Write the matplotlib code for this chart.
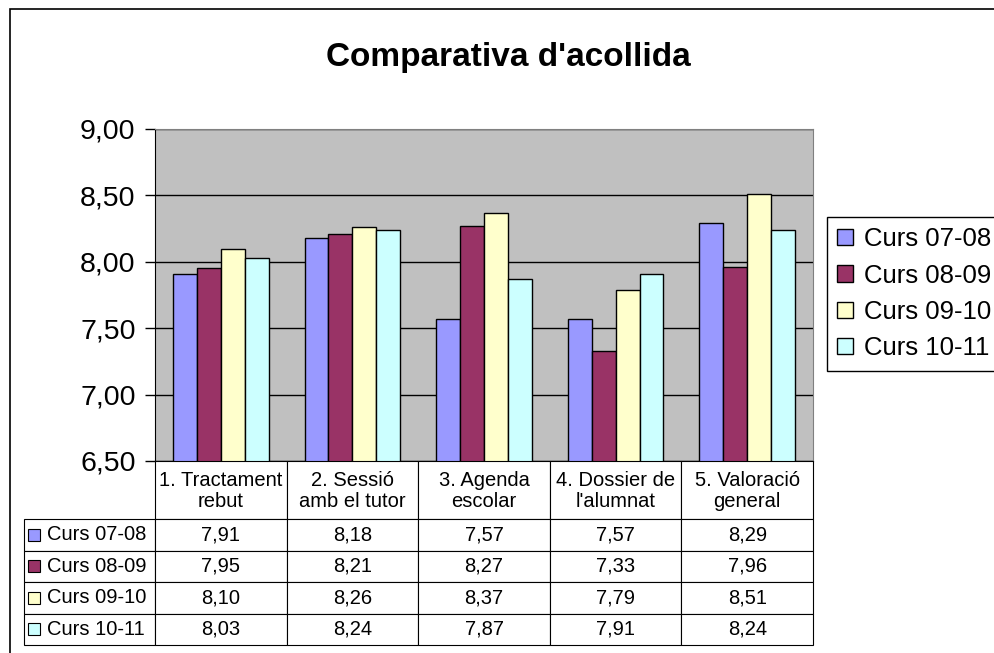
import matplotlib
matplotlib.use("Agg")
import matplotlib.pyplot as plt
from matplotlib.patches import Rectangle
from matplotlib.ticker import FuncFormatter
import numpy as np

plt.rcParams['font.family'] = ['Liberation Sans', 'DejaVu Sans']

# data
categories = ["1. Tractament\nrebut", "2. Sessió\namb el tutor", "3. Agenda\nescolar",
              "4. Dossier de\nl'alumnat", "5. Valoració\ngeneral"]
series_names = ["Curs 07-08", "Curs 08-09", "Curs 09-10", "Curs 10-11"]
curs_0708 = [7.91, 8.18, 7.57, 7.57, 8.29]
curs_0809 = [7.95, 8.21, 8.27, 7.33, 7.96]
curs_0910 = [8.10, 8.26, 8.37, 7.79, 8.51]
curs_1011 = [8.03, 8.24, 7.87, 7.91, 8.24]
series_values = [curs_0708, curs_0809, curs_0910, curs_1011]
colors = ['#9999FF', '#993366', '#FFFFCC', '#CCFFFF']


def fmt(v):
    return f"{v:.2f}".replace('.', ',')


W, H = 995, 653
fig = plt.figure(figsize=(W / 100, H / 100), dpi=100)

# outer chart border (cut by image edge on right/bottom)
fig.patches.append(Rectangle((10 / W, -0.1), 1.2, 1 - 9 / H + 0.1, transform=fig.transFigure,
                             fill=False, edgecolor='black', linewidth=1.2))

# plot area in pixels
px_l, px_r, px_t, px_b = 155, 813, 129, 461
aw, ah = px_r - px_l, px_b - px_t
ax = fig.add_axes([px_l / W, 1 - px_b / H, aw / W, ah / H])
ax.set_facecolor('#C0C0C0')


def ax_x(px):
    return (px - px_l) / aw


def ax_y(py):
    return (px_b - py) / ah


x = np.arange(len(categories))
bw = 1 / 5.5
for i, (name, vals) in enumerate(zip(series_names, series_values)):
    ax.bar(x + (i - 1.5) * bw, vals, width=bw, color=colors[i], edgecolor='black',
           linewidth=1, label=name, zorder=3)

ax.set_xlim(-0.5, len(categories) - 0.5)
ax.set_ylim(6.5, 9.0)
ax.set_yticks(np.arange(6.5, 9.01, 0.5))
ax.yaxis.set_major_formatter(FuncFormatter(lambda v, p: fmt(v)))
ax.tick_params(axis='y', direction='out', length=7, width=1, pad=7, labelsize=20.5)
ax.set_xticks([])
ax.grid(axis='y', color='black', linewidth=1, zorder=1)
for s in ['top', 'right']:
    ax.spines[s].set_color('#808080')
for s in ['left', 'bottom']:
    ax.spines[s].set_color('black')

# title
fig.text(508 / W, 1 - 66 / H, "Comparativa d'acollida", ha='center', va='baseline',
         fontsize=24, fontweight='bold')

# legend
leg = fig.legend(loc='upper left', bbox_to_anchor=(827 / W, 1 - 217 / H), borderaxespad=0,
                 fontsize=18.5, handlelength=0.6, handleheight=0.6, handletextpad=0.45,
                 labelspacing=0.48, borderpad=0.4, fancybox=False, framealpha=1)
leg.get_frame().set_edgecolor('black')
leg.get_frame().set_linewidth(1)

# data table below the plot, drawn in axes coordinates
tb_l, head_b, tb_b = 24, 519, 645
row_h = (tb_b - head_b) / len(series_names)
col_w = aw / len(categories)
tfs = 14.5


def cell(x0, y0, x1, y1):
    ax.add_patch(Rectangle((ax_x(x0), ax_y(y1)), ax_x(x1) - ax_x(x0), ax_y(y0) - ax_y(y1),
                           transform=ax.transAxes, facecolor='white', edgecolor='black',
                           linewidth=0.8, clip_on=False, zorder=4))


for j, cat in enumerate(categories):
    cx0 = px_l + j * col_w
    cell(cx0, px_b, cx0 + col_w, head_b)
    ax.text(ax_x(cx0 + col_w / 2), ax_y((px_b + head_b) / 2 + 1), cat, transform=ax.transAxes,
            ha='center', va='center', fontsize=tfs, linespacing=1.1, zorder=6)

for i, (name, vals) in enumerate(zip(series_names, series_values)):
    y0 = head_b + i * row_h
    y1 = y0 + row_h
    cy = (y0 + y1) / 2
    cell(tb_l, y0, px_l, y1)
    ax.add_patch(Rectangle((ax_x(28), ax_y(cy + 6)), 12 / aw, 12 / ah,
                           transform=ax.transAxes, facecolor=colors[i], edgecolor='black',
                           linewidth=0.8, clip_on=False, zorder=6))
    ax.text(ax_x(47), ax_y(cy), name, transform=ax.transAxes, ha='left', va='center',
            fontsize=tfs, zorder=6)
    for j, v in enumerate(vals):
        cx0 = px_l + j * col_w
        cell(cx0, y0, cx0 + col_w, y1)
        ax.text(ax_x(cx0 + col_w / 2), ax_y(cy), fmt(v), transform=ax.transAxes,
                ha='center', va='center', fontsize=tfs, zorder=6)

fig.savefig("out.png", dpi=100)
